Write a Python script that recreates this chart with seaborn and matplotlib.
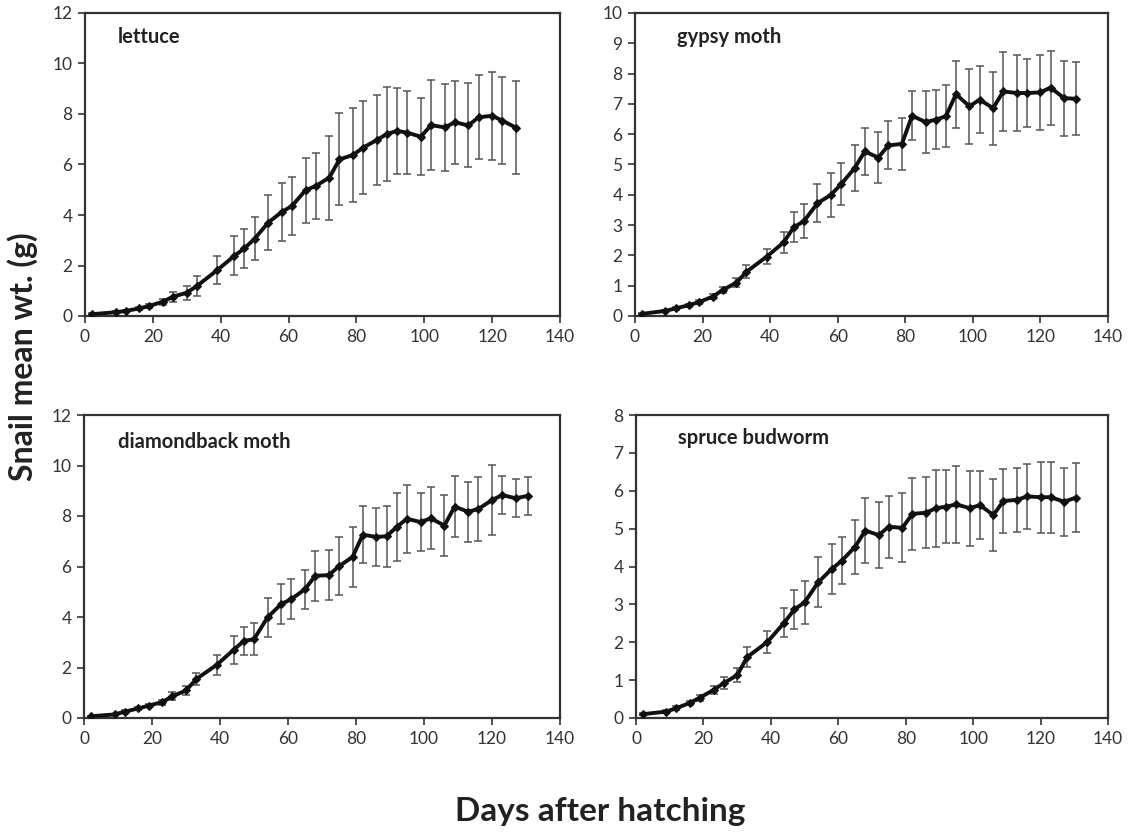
import matplotlib
matplotlib.use("Agg")
import matplotlib.pyplot as plt
import pandas as pd
import seaborn as sns

# Sampling days (lettuce stops one visit earlier)
days = [2, 9, 12, 16, 19, 23, 26, 30, 33, 39, 44, 47, 50, 54, 58, 61, 65, 68,
        72, 75, 79, 82, 86, 89, 92, 95, 99, 102, 106, 109, 113, 116, 120, 123,
        127, 130.5]

lettuce_mean = [0.07, 0.15, 0.2, 0.3, 0.4, 0.57, 0.77, 0.92, 1.19, 1.82, 2.38,
                2.68, 3.06, 3.7, 4.12, 4.36, 4.98, 5.15, 5.48, 6.2, 6.38, 6.67,
                6.97, 7.21, 7.33, 7.26, 7.1, 7.56, 7.47, 7.67, 7.55, 7.87, 7.93,
                7.74, 7.46]
lettuce_err = [0.03, 0.04, 0.05, 0.06, 0.08, 0.12, 0.2, 0.28, 0.4, 0.57, 0.77,
               0.76, 0.85, 1.08, 1.13, 1.16, 1.28, 1.32, 1.66, 1.82, 1.87, 1.83,
               1.78, 1.85, 1.7, 1.65, 1.53, 1.78, 1.72, 1.64, 1.66, 1.66, 1.75,
               1.73, 1.85]

gypsy_mean = [0.07, 0.17, 0.25, 0.36, 0.46, 0.64, 0.86, 1.1, 1.46, 1.96, 2.43,
              2.93, 3.13, 3.72, 4.0, 4.35, 4.88, 5.43, 5.23, 5.63, 5.68, 6.61,
              6.4, 6.48, 6.59, 7.32, 6.92, 7.14, 6.86, 7.41, 7.36, 7.36, 7.38,
              7.54, 7.19, 7.17]
gypsy_err = [0.02, 0.03, 0.04, 0.05, 0.06, 0.07, 0.1, 0.15, 0.22, 0.25, 0.34,
             0.5, 0.55, 0.63, 0.73, 0.7, 0.76, 0.79, 0.83, 0.79, 0.86, 0.81,
             1.02, 0.98, 1.02, 1.1, 1.24, 1.11, 1.2, 1.31, 1.24, 1.12, 1.23,
             1.22, 1.24, 1.2]

diamond_mean = [0.07, 0.14, 0.25, 0.38, 0.49, 0.63, 0.86, 1.09, 1.54, 2.1, 2.7,
                3.05, 3.12, 3.99, 4.51, 4.71, 5.1, 5.63, 5.66, 6.01, 6.38, 7.26,
                7.17, 7.2, 7.57, 7.89, 7.76, 7.91, 7.62, 8.37, 8.17, 8.28, 8.63,
                8.83, 8.7, 8.8]
diamond_err = [0.02, 0.03, 0.05, 0.06, 0.07, 0.1, 0.16, 0.19, 0.23, 0.38, 0.55,
               0.55, 0.63, 0.78, 0.78, 0.79, 0.78, 1.0, 0.99, 1.14, 1.2, 1.14,
               1.16, 1.2, 1.36, 1.34, 1.16, 1.22, 1.21, 1.22, 1.18, 1.28, 1.38,
               0.76, 0.75, 0.76]

spruce_mean = [0.1, 0.17, 0.26, 0.4, 0.54, 0.74, 0.92, 1.13, 1.61, 2.01, 2.52,
               2.87, 3.05, 3.58, 3.93, 4.15, 4.52, 4.95, 4.83, 5.05, 5.02, 5.39,
               5.42, 5.54, 5.58, 5.64, 5.54, 5.62, 5.36, 5.73, 5.76, 5.85, 5.83,
               5.83, 5.71, 5.82]
spruce_err = [0.03, 0.04, 0.05, 0.06, 0.08, 0.11, 0.16, 0.19, 0.27, 0.29, 0.38,
              0.51, 0.57, 0.66, 0.66, 0.62, 0.72, 0.86, 0.88, 0.82, 0.91, 0.95,
              0.94, 1.02, 0.97, 1.02, 0.99, 0.89, 0.96, 0.85, 0.84, 0.85, 0.94,
              0.94, 0.9, 0.9]

panel_names = ["lettuce", "gypsy moth", "diamondback moth", "spruce budworm"]
panel_means = [lettuce_mean, gypsy_mean, diamond_mean, spruce_mean]
panel_errs = [lettuce_err, gypsy_err, diamond_err, spruce_err]
panel_ymax = [12, 10, 12, 8]
panel_ystep = [2, 1, 2, 1]

sns.set_style("white")
plt.rcParams["font.family"] = ["Lato", "DejaVu Sans"]

fig = plt.figure(figsize=(11.36, 8.34), dpi=100)
# axes boxes in pixels: left, top, right, bottom
boxes = [(85, 13, 560, 316), (635, 13, 1108, 316),
         (84, 415, 560, 718), (636, 415, 1108, 718)]
label_pos = [(0.068, 0.92), (0.088, 0.92), (0.071, 0.91), (0.088, 0.925)]

for i, name in enumerate(panel_names):
    l, t, r, b = boxes[i]
    ax = fig.add_axes([l / 1136, 1 - b / 834, (r - l) / 1136, (b - t) / 834])
    mean = panel_means[i]
    err = panel_errs[i]
    df = pd.DataFrame({"day": days[:len(mean)], "wt": mean, "err": err})

    ax.errorbar(df["day"], df["wt"], yerr=df["err"], fmt="none",
                ecolor="#555555", elinewidth=1.1, capsize=3, capthick=1.1,
                zorder=2)
    sns.lineplot(data=df, x="day", y="wt", ax=ax, color="#111111",
                 linewidth=2.8, marker="D", markersize=4.5,
                 markeredgecolor="#111111", zorder=3)

    ax.set_xlim(0, 140)
    ax.set_ylim(0, panel_ymax[i])
    ax.set_xticks(range(0, 141, 20))
    ax.set_yticks(range(0, panel_ymax[i] + 1, panel_ystep[i]))
    ax.set_xlabel("")
    ax.set_ylabel("")
    ax.tick_params(axis="both", direction="out", length=5, width=1.2,
                   color="#333333", labelsize=12.5, labelcolor="#333333",
                   pad=4, bottom=True, left=True)
    for sp in ax.spines.values():
        sp.set_color("#333333")
        sp.set_linewidth(1.6)
    lx, ly = label_pos[i]
    ax.text(lx, ly, name, transform=ax.transAxes, fontsize=14.5,
            fontweight="bold", color="#222222", ha="left", va="center")

fig.text(0.02, 0.572, "Snail mean wt. (g)", rotation=90, fontsize=23,
         fontweight="bold", color="#222222", ha="center", va="center")
fig.text(0.528, 0.027, "Days after hatching", fontsize=24,
         fontweight="bold", color="#222222", ha="center", va="center")

fig.savefig("out.png", dpi=100)
